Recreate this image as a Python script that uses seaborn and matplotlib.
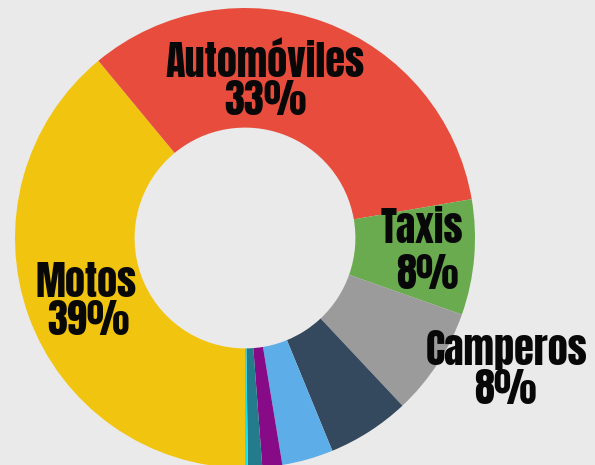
import matplotlib
matplotlib.use("Agg")
import matplotlib.pyplot as plt
from matplotlib import font_manager
import seaborn as sns

# ---- data ----
categories = ["Motos", "Automóviles", "Taxis", "Camperos", "Camionetas",
              "Buses", "Busetas", "Microbuses", "Otros"]
shares = [39.0, 33.3, 8.1, 7.6, 5.8, 3.6, 1.4, 1.0, 0.2]
labelled = ["Motos", "Automóviles", "Taxis", "Camperos"]
colors = ["#F1C40F", "#E74C3C", "#6AAB4F", "#9B9B9B", "#34495E",
          "#5DADE8", "#870A87", "#237B8C", "#17E3F0"]

sns.set_theme(style="white")
names = {f.name for f in font_manager.fontManager.ttflist}
family = "Anton" if "Anton" in names else "DejaVu Sans"

BG = "#EAEAEA"
W, H = 595, 465
fig = plt.figure(figsize=(W / 100, H / 100), dpi=100, facecolor=BG)
ax = fig.add_axes([0, 0, 1, 1])
ax.set_facecolor(BG)

cx, cy, R = 245, 238, 230  # pixel centre and radius of the donut
ax.pie(shares, colors=sns.color_palette(colors), startangle=-90, counterclock=False,
       radius=1.0, wedgeprops=dict(width=0.52, linewidth=0))
ax.set_aspect("auto")
ax.set_xlim(-cx / R, (W - cx) / R)
ax.set_ylim(-(H - cy) / R, cy / R)
ax.axis("off")

# label placement in pixels: (name x, name baseline, pct x, pct baseline)
label_px = {
    "Motos": (86, 297, 88, 335),
    "Automóviles": (265, 77, 265, 115),
    "Taxis": (422, 243, 427, 289),
    "Camperos": (507, 365, 505, 404),
}
for cat, share in zip(categories, shares):
    if cat not in labelled:
        continue
    nx, ny, px, py = label_px[cat]
    kw = dict(ha="center", va="baseline", fontsize=29, family=family, color="#080808")
    ax.text((nx - cx) / R, (cy - ny) / R, cat, **kw)
    ax.text((px - cx) / R, (cy - py) / R, f"{round(share)}%", **kw)

fig.savefig("out.png", dpi=100, facecolor=BG)
